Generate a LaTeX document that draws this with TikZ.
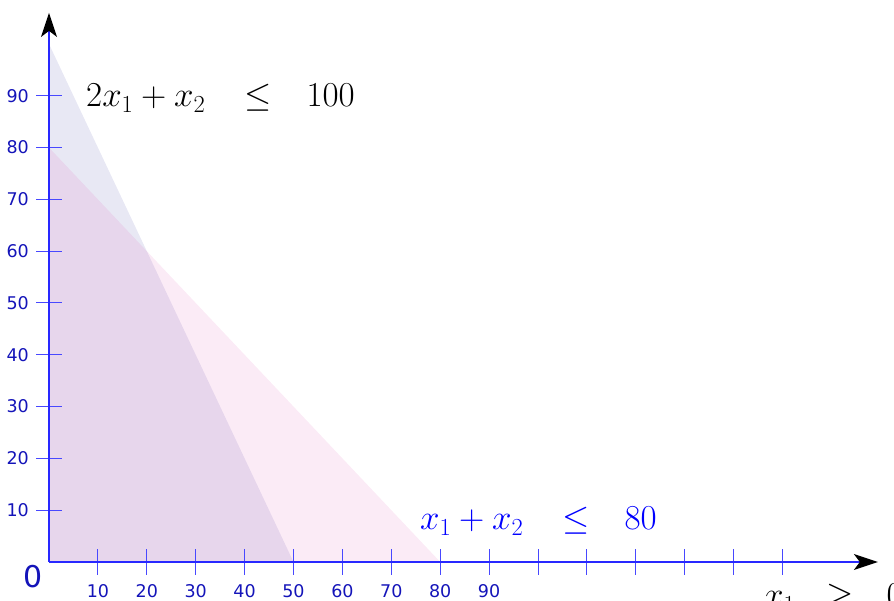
\RequirePackage{fix-cm}
\documentclass[tikz,border=0pt]{standalone}
\usepackage{fontspec}
\newfontfamily\tickfont{DejaVu Sans}
\usetikzlibrary{arrows.meta}
\definecolor{axisblue}{RGB}{40,40,255}
\definecolor{ticklab}{RGB}{20,20,185}
\definecolor{regA}{RGB}{30,30,150}
\definecolor{regB}{RGB}{215,55,165}
\definecolor{eqblue}{RGB}{0,0,255}
\tikzset{
  axisline/.style={axisblue, line width=1.4pt},
  tickline/.style={axisblue!85, line width=1pt},
  ticklabel/.style={font=\tickfont\fontsize{17.5}{19}\selectfont, text=ticklab, inner sep=0pt},
  eqlabel/.style={font=\fontsize{35}{42}\selectfont, inner sep=0pt, anchor=base west},
  tipstyle/.style={-{Stealth[black, length=24pt, width=16pt, inset=6pt]}}
}
\newcommand{\gapA}{\hspace{39pt}}
\newcommand{\gapB}{\hspace{35pt}}
\begin{document}
\begin{tikzpicture}[x=1pt,y=1pt]
\useasboundingbox (0,0) rectangle (894,601);
\clip (0,0) rectangle (894,601);
\begin{scope}[shift={(49,39)}, x=4.89pt, y=5.18pt]
  % feasible regions
  \fill[regA, opacity=0.1] (0,0) -- (0,100) -- (50,0) -- cycle;
  \fill[regB, opacity=0.1] (0,0) -- (0,80) -- (80,0) -- cycle;
  % ticks
  \foreach \i in {1,...,15} \draw[tickline] (10*\i,0) ++(0pt,-13pt) -- ++(0pt,26pt);
  \foreach \i in {1,...,9} \draw[tickline] (0,10*\i) ++(-13pt,0pt) -- ++(26pt,0pt);
  % axes
  \coordinate (O) at (0,0);
  \coordinate (xtip) at (169.5,0);
  \coordinate (ytip) at (0,106);
  \draw[axisline, tipstyle] (O) -- (xtip);
  \draw[axisline, tipstyle] (O) -- (ytip);
  % tick labels
  \foreach \i in {1,...,9} \node[ticklabel] (xl\i) at ([yshift=-29pt]10*\i,0) {\i0};
  \foreach \i in {1,...,9} \node[ticklabel, anchor=east] (yl\i) at ([xshift=-20pt]0,10*\i) {\i0};
  \node[font=\tickfont\fontsize{30}{32}\selectfont, text=ticklab, inner sep=0pt] (zero) at ([xshift=-16pt,yshift=-15pt]O) {0};
\end{scope}
% constraint labels
\node[eqlabel] (c1) at (86,494) {$2x_1+x_2\gapA{\leq}\gapB 100$};
\node[eqlabel, text=eqblue] (c2) at (420,71) {$x_1+x_2\gapA{\leq}\gapB 80$};
\node[eqlabel] (c3) at (764,-6) {$x_1\hspace{31pt}{\geq}\hspace{33pt}0$};
\end{tikzpicture}
\end{document}
